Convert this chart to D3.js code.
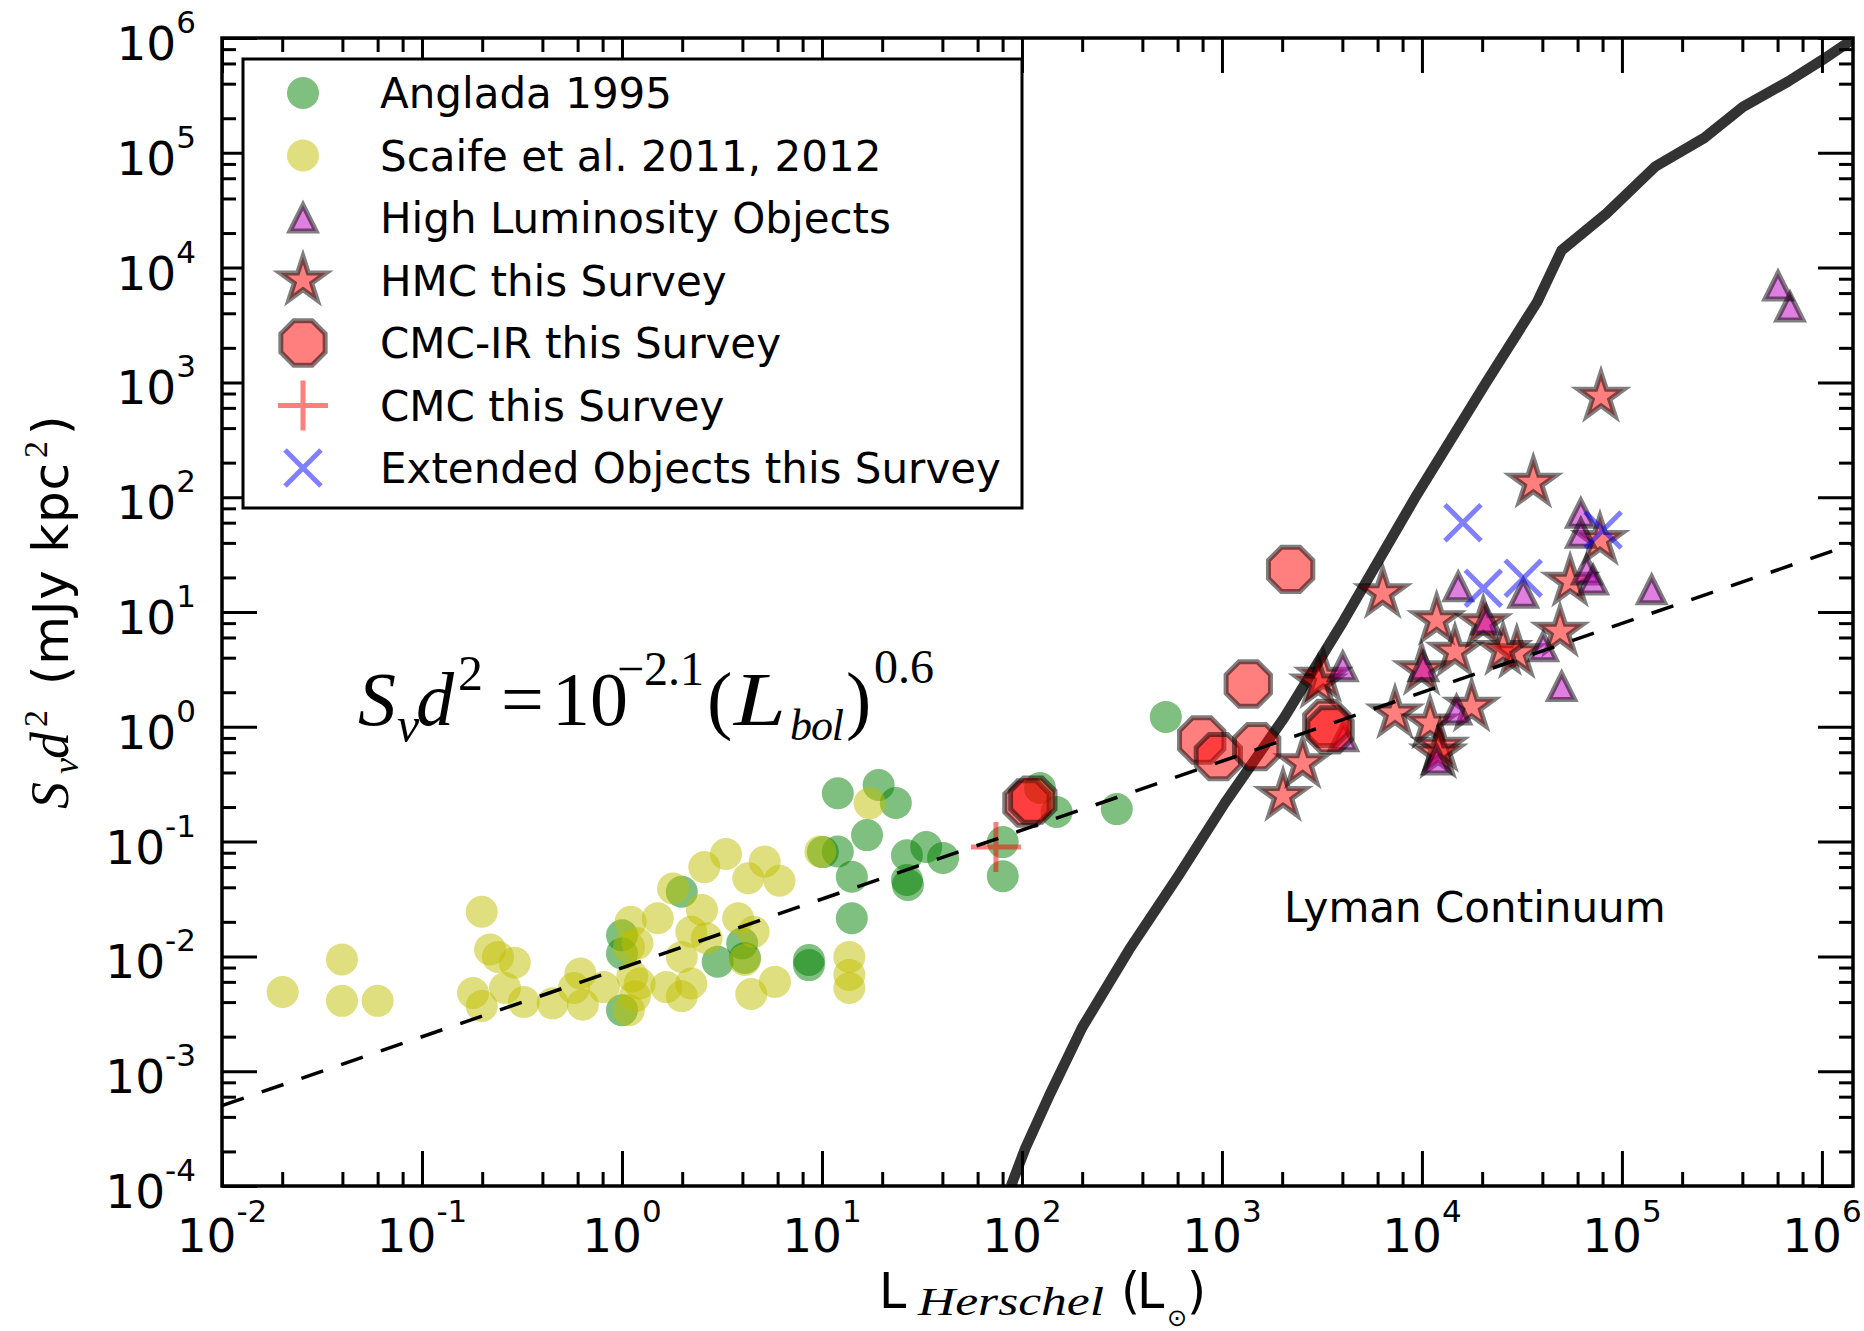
<!DOCTYPE html>
<html>
<head>
<meta charset="utf-8">
<script src="https://cdn.jsdelivr.net/npm/d3@7"></script>
<style>
  html, body { margin: 0; padding: 0; background: #fff; }
  svg { display: block; }
</style>
</head>
<body>
<svg id="chart" width="1864" height="1331"></svg>
<script>
// ---- Data: [L_Herschel (Lsun), S_nu d^2 (mJy kpc^2)] ----
const anglada1995 = [
  [1.00, 0.0153], [1.00, 0.0106], [1.00, 0.0034], [1.99, 0.0366],
  [3.01, 0.0090], [3.99, 0.0130], [4.12, 0.0097], [8.61, 0.0084],
  [8.61, 0.0093], [14.1, 0.0215], [14.1, 0.0494], [12.0, 0.082],
  [10.1, 0.081], [12.0, 0.264], [19.2, 0.311], [23.4, 0.217],
  [16.8, 0.114], [26.6, 0.076], [33.2, 0.0897], [40.3, 0.072],
  [26.6, 0.0463], [26.9, 0.0419], [80.2, 0.099], [80.2, 0.050],
  [123, 0.293], [149, 0.181], [298, 0.192], [524, 1.22]
];

const scaife2011 = [
  [0.0201, 0.0049], [0.0398, 0.0094], [0.0398, 0.0041], [0.060, 0.0041],
  [0.199, 0.0245], [0.219, 0.0115], [0.240, 0.0099], [0.291, 0.0088],
  [0.180, 0.0048], [0.199, 0.0037], [0.260, 0.0053], [0.323, 0.0040],
  [0.450, 0.0039], [0.620, 0.0071], [0.575, 0.0053], [0.637, 0.0038],
  [0.812, 0.0054], [1.105, 0.020], [1.51, 0.0215], [1.083, 0.0121],
  [1.195, 0.0130], [1.127, 0.0067], [1.16, 0.0045], [1.083, 0.0034],
  [1.226, 0.0058], [1.666, 0.0054], [1.99, 0.0045], [2.22, 0.0058],
  [1.99, 0.0099], [1.80, 0.039], [2.58, 0.060], [3.31, 0.078],
  [5.17, 0.067], [6.13, 0.0456], [4.28, 0.0479], [2.51, 0.0254],
  [2.22, 0.0164], [2.65, 0.0144], [3.81, 0.0215], [4.55, 0.0164],
  [4.11, 0.0093], [4.43, 0.0047], [5.82, 0.0060], [13.7, 0.0099],
  [13.7, 0.0069], [13.7, 0.0053], [9.81, 0.082], [17.3, 0.216]
];

const highLuminosity = [
  [692000, 4540], [603000, 6920], [140800, 15.6], [32100, 14.6],
  [15180, 16.6], [62300, 72.4], [62300, 48.5], [66600, 23.2],
  [71800, 19.0], [49960, 2.24], [40400, 4.99], [4020, 3.34],
  [4045, 0.82], [10160, 3.34], [14890, 1.40], [11840, 0.514],
  [20940, 8.5]
];

const hmcSurvey = [
  [78600, 751], [36050, 134], [77640, 42.4], [6365, 14.6],
  [3211, 2.73], [3030, 2.39], [2532, 0.481], [2021, 0.25],
  [11840, 8.5], [14620, 4.51], [20260, 7.98], [29800, 4.37],
  [25460, 4.67], [49020, 6.74], [55050, 18.4], [9960, 3.12],
  [7330, 1.31], [10980, 1.07], [17710, 1.50], [12310, 0.671],
  [12060, 0.587]
];

const cmcIrSurvey = [
  [2205, 23.5], [1354, 2.36], [792, 0.767], [959, 0.55],
  [1491, 0.671], [3343, 1.07], [3472, 0.94], [105.9, 0.217],
  [113.3, 0.230]
];

const cmcSurvey = [[74.1, 0.0897]];

const extendedSurvey = [
  [16030, 60], [20260, 16.1], [32100, 19.7], [80540, 51.8]
];

// Lyman continuum limit
const lymanL = [88.1, 104, 138, 200, 344, 604, 1038, 2046, 4046, 9204, 20940,
  37670, 49890, 83560, 146900, 258200, 402700, 676100, 1007000, 1432000];
const lymanS = [1.0e-4, 2.14e-4, 6.31e-4, 2.40e-3, 0.0115, 0.0501, 0.219, 1.20,
  8.32, 97.7, 1000, 5012, 14125, 29512, 75858, 134896, 251189, 416869, 645654, 977237];

// Fit S_nu d^2 = 10^-2.1 (L_bol)^0.6, drawn across the axis range
const fitLogCoef = -2.1;
const fitSlope = 0.6;

// Axis ranges and ticks
const lumDomain = [1e-2, 1.43e6];
const fluxDomain = [1e-4, 1e6];
const xTickExps = ['-2', '-1', '0', '1', '2', '3', '4', '5', '6'];
const yTickExps = ['-4', '-3', '-2', '-1', '0', '1', '2', '3', '4', '5', '6'];
const minorMultipliers = [2, 4, 6, 8];

const legendLabels = [
  'Anglada 1995', 'Scaife et al. 2011, 2012', 'High Luminosity Objects',
  'HMC this Survey', 'CMC-IR this Survey', 'CMC this Survey',
  'Extended Objects this Survey'
];

// ---- Layout ----
const W = 1864, H = 1331;
const M = { left: 222, right: 1853, top: 38, bottom: 1186 };
const SANS = 'DejaVu Sans, Bitstream Vera Sans, sans-serif';
const SERIF = 'Liberation Serif, Times New Roman, serif';

const x = d3.scaleLog().domain(lumDomain).range([M.left, M.right]);
const y = d3.scaleLog().domain(fluxDomain).range([M.bottom, M.top]);

const svg = d3.select('#chart');
svg.append('rect').attr('width', W).attr('height', H).attr('fill', '#fff');

svg.append('defs').append('clipPath').attr('id', 'plotClip')
  .append('rect')
  .attr('x', M.left).attr('y', M.top)
  .attr('width', M.right - M.left).attr('height', M.bottom - M.top);

const plot = svg.append('g').attr('clip-path', 'url(#plotClip)');

// ---- Marker shapes ----
function starPath(R) {
  const pts = [];
  for (let i = 0; i < 10; i++) {
    const a = -Math.PI / 2 + i * Math.PI / 5;
    const r = i % 2 ? R * 0.381966 : R;
    pts.push([r * Math.cos(a), r * Math.sin(a)]);
  }
  return 'M' + pts.map(p => p[0].toFixed(2) + ',' + p[1].toFixed(2)).join('L') + 'Z';
}
function octagonPath(R) {
  const pts = [];
  for (let i = 0; i < 8; i++) {
    const a = Math.PI / 8 + i * Math.PI / 4;
    pts.push([R * Math.cos(a), R * Math.sin(a)]);
  }
  return 'M' + pts.map(p => p[0].toFixed(2) + ',' + p[1].toFixed(2)).join('L') + 'Z';
}
function trianglePath(h) { return `M0,${-h}L${h},${h}L${-h},${h}Z`; }
function circlePath(r) { return `M${r},0A${r},${r} 0 1 1 ${-r},0A${r},${r} 0 1 1 ${r},0Z`; }
function plusPath(a) { return `M${-a},0H${a}M0,${-a}V${a}`; }
function crossPath(a) { return `M${-a},${-a}L${a},${a}M${-a},${a}L${a},${-a}`; }

const series = [
  { name: 'anglada', data: anglada1995, d: circlePath(16), fill: 'rgb(0,128,0)', stroke: 'none' },
  { name: 'scaife', data: scaife2011, d: circlePath(16), fill: 'rgb(191,191,0)', stroke: 'none' },
  { name: 'hmc', data: hmcSurvey, d: starPath(24), fill: 'rgb(255,0,0)', stroke: '#000', sw: 5 },
  { name: 'highlum', data: highLuminosity, d: trianglePath(13), fill: 'rgb(191,0,191)', stroke: '#000', sw: 5 },
  { name: 'cmcir', data: cmcIrSurvey, d: octagonPath(24), fill: 'rgb(255,0,0)', stroke: '#000', sw: 5 },
  { name: 'cmc', data: cmcSurvey, d: plusPath(25), fill: 'none', stroke: 'rgb(255,0,0)', sw: 5 },
  { name: 'ext', data: extendedSurvey, d: crossPath(18), fill: 'none', stroke: 'rgb(0,0,255)', sw: 5 }
];

function styleMarker(sel, s) {
  sel.attr('d', s.d)
    .attr('fill', s.fill)
    .attr('fill-opacity', s.fill === 'none' ? null : 0.5)
    .attr('stroke', s.stroke)
    .attr('stroke-opacity', s.stroke === 'none' ? null : 0.5)
    .attr('stroke-width', s.sw || 0)
    .attr('stroke-linejoin', 'miter')
    .attr('stroke-miterlimit', 10);
}

// Lyman continuum curve
plot.append('path')
  .datum(lymanL.map((l, i) => [l, lymanS[i]]))
  .attr('d', d3.line().x(d => x(d[0])).y(d => y(d[1])))
  .attr('fill', 'none')
  .attr('stroke', '#333')
  .attr('stroke-width', 10.5)
  .attr('stroke-linejoin', 'round');

// Scatter series
series.forEach(s => {
  plot.append('g').attr('class', s.name)
    .selectAll('path').data(s.data).join('path')
    .attr('transform', d => `translate(${x(d[0])},${y(d[1])})`)
    .call(sel => styleMarker(sel, s));
});

// Power-law fit across the full luminosity axis
plot.append('path')
  .datum(lumDomain.map(l => [l, Math.pow(10, fitLogCoef) * Math.pow(l, fitSlope)]))
  .attr('d', d3.line().x(d => x(d[0])).y(d => y(d[1])))
  .attr('fill', 'none')
  .attr('stroke', '#000')
  .attr('stroke-width', 3.5)
  .attr('stroke-dasharray', '23,19');

// ---- Axes (inward ticks on all four sides) ----
const xMajor = xTickExps.map(e => Math.pow(10, +e));
const yMajor = yTickExps.map(e => Math.pow(10, +e));
const xMinor = [], yMinor = [];
xTickExps.slice(0, -1).forEach(e => minorMultipliers.forEach(m => xMinor.push(m * Math.pow(10, +e))));
yTickExps.slice(0, -1).forEach(e => minorMultipliers.forEach(m => yMinor.push(m * Math.pow(10, +e))));

function tidy(g) {
  g.select('.domain').remove();
  g.selectAll('text').remove();
  g.selectAll('line').attr('stroke', '#000').attr('stroke-width', 3);
}
const axes = svg.append('g');
[[xMajor, 35], [xMinor, 14]].forEach(([vals, len]) => {
  axes.append('g').attr('transform', `translate(0,${M.bottom})`)
    .call(d3.axisBottom(x).tickValues(vals).tickSize(-len).tickFormat('')).call(tidy);
  axes.append('g').attr('transform', `translate(0,${M.top})`)
    .call(d3.axisTop(x).tickValues(vals).tickSize(-len).tickFormat('')).call(tidy);
});
[[yMajor, 35], [yMinor, 14]].forEach(([vals, len]) => {
  axes.append('g').attr('transform', `translate(${M.left},0)`)
    .call(d3.axisLeft(y).tickValues(vals).tickSize(-len).tickFormat('')).call(tidy);
  axes.append('g').attr('transform', `translate(${M.right},0)`)
    .call(d3.axisRight(y).tickValues(vals).tickSize(-len).tickFormat('')).call(tidy);
});

svg.append('rect')
  .attr('x', M.left).attr('y', M.top)
  .attr('width', M.right - M.left).attr('height', M.bottom - M.top)
  .attr('fill', 'none').attr('stroke', '#000').attr('stroke-width', 3.5);

// Tick labels: 10^n
xTickExps.forEach(e => {
  const t = svg.append('text')
    .attr('x', x(Math.pow(10, +e))).attr('y', 1252)
    .attr('text-anchor', 'middle')
    .attr('font-family', SANS).attr('font-size', 47).attr('fill', '#000');
  t.append('tspan').text('10');
  t.append('tspan').attr('font-size', 31).attr('dy', -30).text(e);
});
yTickExps.forEach(e => {
  const t = svg.append('text')
    .attr('x', 196).attr('y', y(Math.pow(10, +e)) + 22)
    .attr('text-anchor', 'end')
    .attr('font-family', SANS).attr('font-size', 47).attr('fill', '#000');
  t.append('tspan').text('10');
  t.append('tspan').attr('font-size', 31).attr('dy', -27).text(e);
});

// ---- Axis titles ----
function piece(parent, txt, px, py, opt) {
  const t = parent.append('text')
    .attr('x', px).attr('y', py)
    .attr('font-family', opt.serif ? SERIF : SANS)
    .attr('font-style', opt.italic ? 'italic' : 'normal')
    .attr('font-size', opt.size)
    .attr('fill', '#000')
    .text(txt);
  if (opt.len) t.attr('textLength', opt.len).attr('lengthAdjust', opt.adjust || 'spacing');
  return t;
}

// x title: L_Herschel (L_sun)
piece(svg, 'L', 879, 1308, { size: 49 });
piece(svg, 'Herschel', 918, 1315, { serif: true, italic: true, size: 41, len: 186, adjust: 'spacingAndGlyphs' });
piece(svg, '(', 1121, 1308, { size: 49 });
piece(svg, 'L', 1137, 1308, { size: 49 });
piece(svg, '\u2299', 1167, 1326, { size: 24 });
piece(svg, ')', 1187, 1308, { size: 49 });

// y title: S_nu d^2 (mJy kpc^2), rotated
const yt = svg.append('g').attr('transform', 'translate(68,613) rotate(-90)');
piece(yt, 'S', -196, 0, { serif: true, italic: true, size: 54 });
piece(yt, '\u03bd', -161, 10, { serif: true, italic: true, size: 36 });
piece(yt, 'd', -146, 0, { serif: true, italic: true, size: 54 });
piece(yt, '2', -114, -21, { serif: true, size: 34 });
piece(yt, '(mJy kpc', -72, 0, { size: 50, len: 222 });
piece(yt, '2', 155, -21, { serif: true, size: 34 });
piece(yt, ')', 178, 0, { size: 50 });

// ---- Fit annotation ----
piece(svg, 'S', 358, 725, { serif: true, italic: true, size: 76 });
piece(svg, '\u03bd', 397, 742, { serif: true, italic: true, size: 50 });
piece(svg, 'd', 416, 725, { serif: true, italic: true, size: 76 });
piece(svg, '2', 458, 690, { serif: true, size: 50 });
piece(svg, '=', 501, 725, { serif: true, size: 76 });
piece(svg, '10', 552, 725, { serif: true, size: 76 });
piece(svg, '\u22122.1', 617, 685, { serif: true, size: 48 });
piece(svg, '(', 707, 725, { serif: true, size: 76 });
piece(svg, 'L', 734, 725, { serif: true, italic: true, size: 76, len: 52, adjust: 'spacingAndGlyphs' });
piece(svg, 'bol', 790, 740, { serif: true, italic: true, size: 44, len: 54 });
piece(svg, ')', 846, 725, { serif: true, size: 76 });
piece(svg, '0.6', 874, 683, { serif: true, size: 48 });

piece(svg, 'Lyman Continuum', 1284, 922, { size: 42 });

// ---- Legend ----
const legend = svg.append('g');
legend.append('rect')
  .attr('x', 243).attr('y', 59).attr('width', 779).attr('height', 449)
  .attr('fill', '#fff').attr('stroke', '#000').attr('stroke-width', 3);
const legendOrder = ['anglada', 'scaife', 'highlum', 'hmc', 'cmcir', 'cmc', 'ext'];
legendLabels.forEach((label, i) => {
  const ry = 93 + i * 62.5;
  const s = series.find(d => d.name === legendOrder[i]);
  legend.append('path').attr('transform', `translate(303,${ry})`).call(sel => styleMarker(sel, s));
  piece(legend, label, 380, ry + 15, { size: 42 });
});
</script>
</body>
</html>
